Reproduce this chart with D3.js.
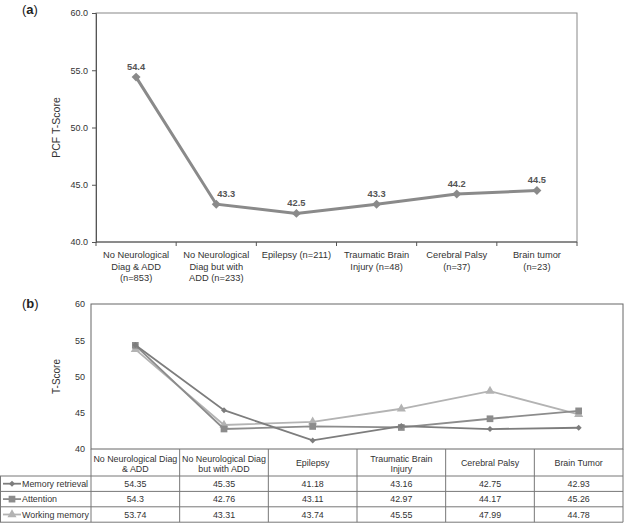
<!DOCTYPE html>
<html><head><meta charset="utf-8">
<script src="https://cdn.jsdelivr.net/npm/d3@7"></script>
<style>
body{margin:0;background:#fff;}
svg{font-family:"Liberation Sans",Arial,sans-serif;}
</style></head>
<body><svg id="c" width="624" height="523"></svg>
<script>
// ---- Data (a)
const catsA = ["No Neurological\nDiag & ADD\n(n=853)","No Neurological\nDiag but with\nADD (n=233)","Epilepsy (n=211)","Traumatic Brain\nInjury (n=48)","Cerebral Palsy\n(n=37)","Brain tumor\n(n=23)"];
const pcfValues = [54.4, 43.3, 42.5, 43.3, 44.2, 44.5];
const ticksA = [40, 45, 50, 55, 60];
// ---- Data (b)
const catsB = ["No Neurological Diag\n& ADD","No Neurological Diag\nbut with ADD","Epilepsy","Traumatic Brain\nInjury","Cerebral Palsy","Brain Tumor"];
const seriesNames = ["Memory retrieval","Attention","Working memory"];
const memoryRetrieval = [54.35, 45.35, 41.18, 43.16, 42.75, 42.93];
const attention = [54.3, 42.76, 43.11, 42.97, 44.17, 45.26];
const workingMemory = [53.74, 43.31, 43.74, 45.55, 47.99, 44.78];
const ticksB = [40, 45, 50, 55, 60];

const svg = d3.select("#c");
const txt = "#333";
const FSA = 9.3, FSB = 8.9, FST = 9;

// ================= Panel (a)
{
  const L=96,R=577,T=13,B=242;
  const x = d3.scaleBand().domain(catsA).range([L,R]);
  const y = d3.scaleLinear().domain([40,60]).range([B,T]);
  const g = svg.append("g");
  g.append("rect").attr("x",L).attr("y",T).attr("width",R-L).attr("height",B-T)
    .attr("fill","none").attr("stroke","#888").attr("stroke-width",1);
  const ay = g.append("g").attr("transform",`translate(${L},0)`)
    .call(d3.axisLeft(y).tickValues(ticksA).tickFormat(d3.format(".1f")).tickSize(4).tickPadding(4));
  ay.select(".domain").attr("stroke","#555");
  ay.selectAll(".tick line").attr("stroke","#555");
  ay.selectAll("text").attr("font-size",FST).attr("fill",txt).attr("font-family","Liberation Sans, Arial, sans-serif");
  g.append("line").attr("x1",L).attr("x2",R).attr("y1",B).attr("y2",B).attr("stroke","#555");
  const edges = catsA.map(c=>x(c)).concat([R]);
  g.selectAll(".bt").data(edges).join("line").attr("x1",d=>d).attr("x2",d=>d)
    .attr("y1",B).attr("y2",B+4).attr("stroke","#555");
  catsA.forEach(c=>{
    const t = g.append("text").attr("text-anchor","middle").attr("font-size",FSA).attr("fill",txt);
    c.split("\n").forEach((ln,i)=>{
      t.append("tspan").attr("x",x(c)+x.bandwidth()/2).attr("y",258+i*11.6).text(ln);
    });
  });
  const line = d3.line().x((d,i)=>x(catsA[i])+x.bandwidth()/2).y(d=>y(d));
  g.append("path").datum(pcfValues).attr("d",line).attr("fill","none")
    .attr("stroke","#8a8a8a").attr("stroke-width",3);
  const sym = d3.symbol().type(d3.symbolSquare).size(40);
  g.selectAll(".pt").data(pcfValues).join("path").attr("d",sym)
    .attr("transform",(d,i)=>`translate(${x(catsA[i])+x.bandwidth()/2},${y(d)}) rotate(45)`)
    .attr("fill","#8a8a8a");
  g.selectAll(".lb").data(pcfValues).join("text")
    .attr("x",(d,i)=>x(catsA[i])+x.bandwidth()/2 + (i===1?10:0)).attr("y",d=>y(d)-7)
    .attr("text-anchor","middle").attr("font-size",9.3).attr("font-weight","bold").attr("fill","#555")
    .text(d=>d3.format(".1f")(d));
  g.append("text").attr("transform",`translate(60,${(T+B)/2}) rotate(-90)`)
    .attr("text-anchor","middle").attr("font-size",10.5).attr("fill",txt).text("PCF T-Score");
  const pa = g.append("text").attr("x",22).attr("y",14).attr("font-size",13).attr("fill","#222");
  pa.append("tspan").text("(");
  pa.append("tspan").attr("font-weight","bold").text("a");
  pa.append("tspan").text(")");
}

// ================= Panel (b)
{
  const L=91,R=623,T=304,B=449;
  const x = d3.scaleBand().domain(catsB).range([L,R]);
  const y = d3.scaleLinear().domain([40,60]).range([B,T]);
  const g = svg.append("g");
  g.append("rect").attr("x",L).attr("y",T).attr("width",R-L).attr("height",B-T)
    .attr("fill","none").attr("stroke","#666").attr("stroke-width",1);
  const ay = g.append("g").attr("transform",`translate(${L},0)`)
    .call(d3.axisLeft(y).tickValues(ticksB).tickFormat(d3.format("d")).tickSize(0).tickPadding(6));
  ay.select(".domain").remove();
  ay.selectAll("text").attr("font-size",FST).attr("fill",txt).attr("font-family","Liberation Sans, Arial, sans-serif");
  g.append("text").attr("transform",`translate(60,${(T+B)/2}) rotate(-90)`)
    .attr("text-anchor","middle").attr("font-size",10).attr("fill",txt).text("T-Score");
  const pb = g.append("text").attr("x",22).attr("y",308).attr("font-size",13).attr("fill","#222");
  pb.append("tspan").text("(");
  pb.append("tspan").attr("font-weight","bold").text("b");
  pb.append("tspan").text(")");

  const series = [
    {name:seriesNames[0], values:memoryRetrieval, color:"#7d7d7d", sym:d3.symbolSquare, size:18, rot:45},
    {name:seriesNames[1], values:attention, color:"#8c8c8c", sym:d3.symbolSquare, size:45, rot:0},
    {name:seriesNames[2], values:workingMemory, color:"#b3b3b3", sym:d3.symbolTriangle, size:36, rot:0}
  ];
  const cx = c=>x(c)+x.bandwidth()/2;
  const line = d3.line().x((d,i)=>cx(catsB[i])).y(d=>y(d));
  series.slice().reverse().forEach(s=>{
    g.append("path").datum(s.values).attr("d",line).attr("fill","none")
      .attr("stroke",s.color).attr("stroke-width",1.8);
    g.selectAll(null).data(s.values).join("path")
      .attr("d",d3.symbol().type(s.sym).size(s.size))
      .attr("transform",(d,i)=>`translate(${cx(catsB[i])},${y(d)}) rotate(${s.rot})`).attr("fill",s.color);
  });

  const hdrB = 476, rowH = 15.4;
  const lc = "#777";
  const edges = catsB.map(c=>x(c)).concat([R]);
  g.selectAll(".vl").data(edges).join("line")
    .attr("x1",d=>d).attr("x2",d=>d).attr("y1",B).attr("y2",hdrB+rowH*3).attr("stroke",lc);
  [0,1,2,3].forEach(i=>{
    g.append("line").attr("x1",0).attr("x2",R).attr("y1",hdrB+i*rowH).attr("y2",hdrB+i*rowH).attr("stroke",lc);
  });
  g.append("line").attr("x1",0.5).attr("x2",0.5).attr("y1",hdrB).attr("y2",hdrB+rowH*3).attr("stroke",lc);
  catsB.forEach(c=>{
    const parts = c.split("\n");
    const t = g.append("text").attr("text-anchor","middle").attr("font-size",FSB).attr("fill",txt);
    const y0 = parts.length===1 ? 466 : 461.5;
    parts.forEach((ln,i)=>t.append("tspan").attr("x",cx(c)).attr("y",y0+i*10.5).text(ln));
  });
  series.forEach((s,r)=>{
    const ym = hdrB + rowH*r + rowH/2;
    g.append("line").attr("x1",3).attr("x2",21).attr("y1",ym).attr("y2",ym).attr("stroke",s.color).attr("stroke-width",1.8);
    g.append("path").attr("d",d3.symbol().type(s.sym).size(s.size)).attr("transform",`translate(12,${ym}) rotate(${s.rot})`).attr("fill",s.color);
    g.append("text").attr("x",22).attr("y",ym+3.3).attr("font-size",FSB).attr("fill",txt).text(s.name);
    g.selectAll(null).data(s.values).join("text")
      .attr("x",(d,i)=>cx(catsB[i])).attr("y",ym+3.3).attr("text-anchor","middle")
      .attr("font-size",FSB).attr("fill",txt).text(d=>d);
  });
}
</script></body></html>
